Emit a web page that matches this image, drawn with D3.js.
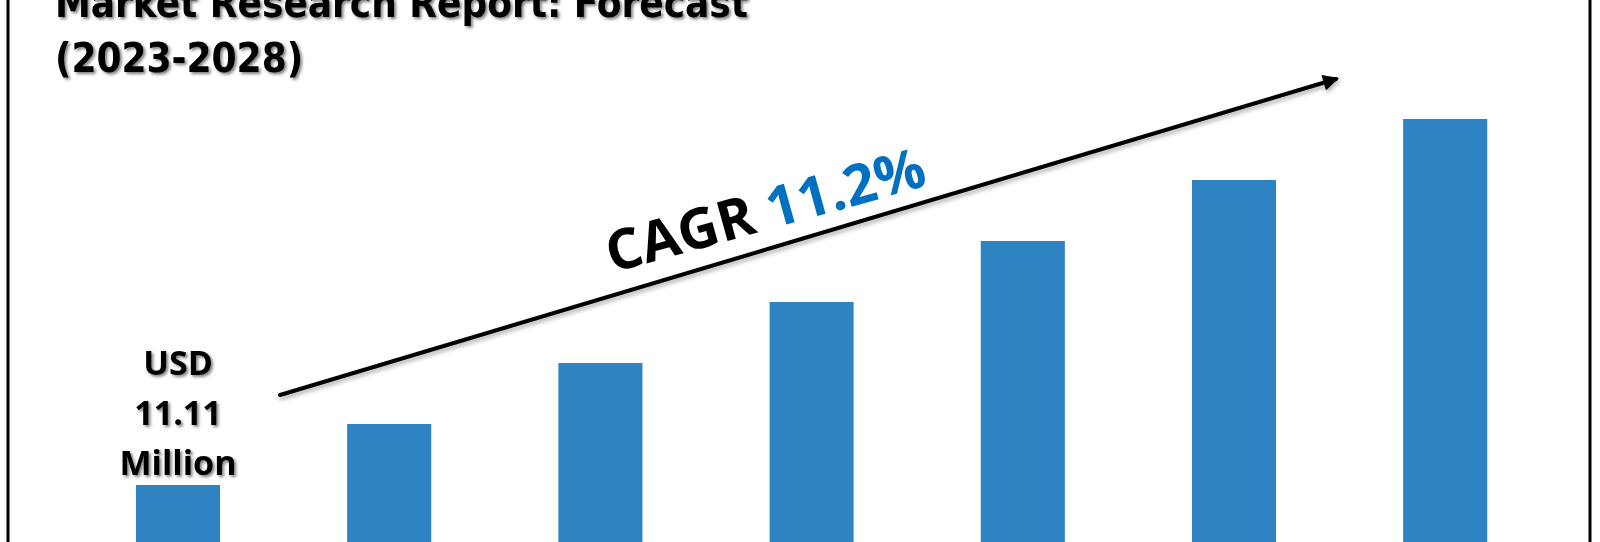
<!DOCTYPE html>
<html>
<head>
<meta charset="utf-8">
<script src="https://cdn.jsdelivr.net/npm/d3@7"></script>
<style>
  html, body { margin: 0; padding: 0; background: #ffffff; overflow: hidden; }
  svg { display: block; }
</style>
</head>
<body>
<div id="chart"></div>
<script>
// ---- data ----
const categories = ["2022", "2023", "2024", "2025", "2026", "2027", "2028"];
const values = [11.11, 12.35, 13.59, 14.83, 16.07, 17.31, 18.55];
const titleLines = ["Market Research Report: Forecast", "(2023-2028)"];
const valueLabelLines = ["USD", "11.11", "Million"];
const cagrLabel = "CAGR";
const cagrValue = "11.2%";

// ---- layout ----
const W = 1600, H = 542;
const svg = d3.select("#chart").append("svg").attr("width", W).attr("height", H);

const defs = svg.append("defs");
const sh = defs.append("filter").attr("id", "shadow").attr("x", "-10%").attr("y", "-30%").attr("width", "130%").attr("height", "160%");
sh.append("feDropShadow").attr("dx", 2).attr("dy", 2).attr("stdDeviation", 1.5).attr("flood-color", "#000").attr("flood-opacity", 0.5);
const shl = defs.append("filter").attr("id", "lshadow").attr("x", "-5%").attr("y", "-20%").attr("width", "110%").attr("height", "150%");
shl.append("feDropShadow").attr("dx", 1).attr("dy", 3).attr("stdDeviation", 2).attr("flood-color", "#000").attr("flood-opacity", 0.3);

defs.append("marker").attr("id", "arrow").attr("viewBox", "0 0 10 10")
  .attr("refX", 8).attr("refY", 5).attr("markerWidth", 4.6).attr("markerHeight", 4)
  .attr("orient", "auto").attr("markerUnits", "strokeWidth")
  .append("path").attr("d", "M0,0 L10,5 L0,10 Z").attr("fill", "#000");

svg.append("rect").attr("width", W).attr("height", H).attr("fill", "#fff");

// scales
const x = d3.scaleBand().domain(categories).range([72.4, 1550.8]).paddingInner(0.602).paddingOuter(0.301);
const y = d3.scaleLinear().domain([0, d3.max(values)]).range([1031.5, 119]);

// bars
svg.append("g").selectAll("rect").data(values).join("rect")
  .attr("x", (d, i) => x(categories[i]))
  .attr("width", x.bandwidth())
  .attr("y", d => y(d))
  .attr("height", d => y(0) - y(d))
  .attr("fill", "#2E83C3");

// border (left/right edges)
svg.append("line").attr("x1", 8).attr("x2", 8).attr("y1", 0).attr("y2", H).attr("stroke", "#000").attr("stroke-width", 3);
svg.append("line").attr("x1", 1590).attr("x2", 1590).attr("y1", 0).attr("y2", H).attr("stroke", "#000").attr("stroke-width", 3);

// title
const title = svg.append("text").attr("x", 55).attr("y", 17)
  .attr("font-family", "'DejaVu Sans Condensed', 'DejaVu Sans', sans-serif")
  .attr("font-weight", "bold").attr("font-size", 40).attr("fill", "#000")
  .attr("filter", "url(#shadow)");
title.selectAll("tspan").data(titleLines).join("tspan")
  .attr("x", 55).attr("dy", (d, i) => i === 0 ? 0 : 55).text(d => d);

// value label over first bar
const lbl = svg.append("text")
  .attr("x", x(categories[0]) + x.bandwidth() / 2).attr("y", 375)
  .attr("text-anchor", "middle")
  .attr("font-family", "'Open Sans', sans-serif").attr("font-weight", 700)
  .attr("font-size", 34).attr("fill", "#000").attr("filter", "url(#shadow)");
lbl.selectAll("tspan").data(valueLabelLines).join("tspan")
  .attr("x", x(categories[0]) + x.bandwidth() / 2)
  .attr("dy", (d, i) => i === 0 ? 0 : 50).text(d => d);

// arrow
svg.append("line").attr("x1", 280).attr("y1", 395).attr("x2", 1336).attr("y2", 79)
  .attr("stroke", "#000").attr("stroke-width", 4).attr("stroke-linecap", "round")
  .attr("marker-end", "url(#arrow)").attr("filter", "url(#lshadow)");

// CAGR text
const cg = svg.append("text").attr("transform", "translate(612,273) rotate(-15.5)")
  .attr("font-family", "'Open Sans', sans-serif").attr("font-weight", 700).attr("font-size", 56);
cg.append("tspan").attr("fill", "#000").text(cagrLabel + " ");
cg.append("tspan").attr("fill", "#0070C0").text(cagrValue);
</script>
</body>
</html>
